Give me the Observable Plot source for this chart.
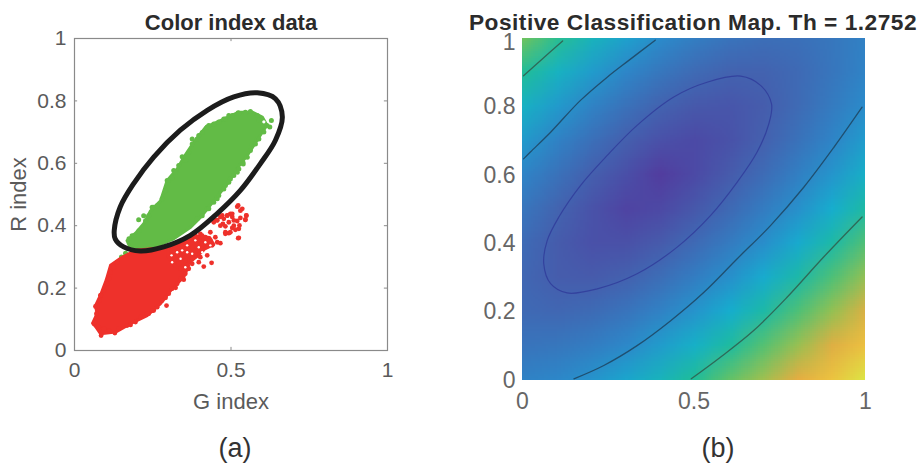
<!DOCTYPE html>
<html><head><meta charset="utf-8">
<script src="https://cdn.jsdelivr.net/npm/d3@7"></script>
<script src="https://cdn.jsdelivr.net/npm/@observablehq/plot@0.6"></script>
<style>
html,body{margin:0;padding:0;background:#fff}
#page{position:relative;width:922px;height:463px;overflow:hidden;font-family:"Liberation Sans",Arial,sans-serif}
#page svg{position:absolute;top:0;background:transparent}
.t{position:absolute;white-space:nowrap;transform:translateX(-50%);line-height:1}
.title{font-weight:bold;font-size:22px;color:#2b2b2b}
.sub{font-size:27px;color:#333}
</style></head><body><div id="page">
<div class="t title" style="left:231px;top:12px;font-size:22px">Color index data</div>
<div class="t title" style="left:693px;top:11px;font-size:22.7px;letter-spacing:.5px">Positive Classification Map. Th = 1.2752</div>
<div class="t sub" style="left:235px;top:435px">(a)</div>
<div class="t sub" style="left:718px;top:435px">(b)</div>
</div>
<script>
// Panel (a): outlines of the densely packed clouds and the visible separate dots
const greenCloud = [[.168,.352],[.195,.376],[.221,.406],[.243,.448],[.275,.480],[.296,.545],[.328,.582],[.349,.619],[.381,.667],[.419,.716],[.466,.737],[.525,.764],[.568,.764],[.600,.748],[.615,.722],[.589,.683],[.552,.625],[.530,.598],[.488,.534],[.445,.480],[.403,.427],[.371,.395],[.317,.358],[.253,.331],[.179,.326]];
const greenDots = [[.205,.419],[.344,.621],[.376,.678],[.429,.721],[.523,.762],[.562,.766],[.589,.739],[.629,.737],[.615,.721],[.538,.603],[.482,.529],[.296,.545],[.248,.459],[.221,.432],[.184,.368],[.317,.577],[.397,.689],[.477,.742],[.493,.753],[.568,.662],[.584,.678],[.520,.571],[.498,.550],[.456,.486],[.424,.454],[.392,.422],[.131,.278],[.168,.299],[.163,.312],[.150,.300],
[.174,.358],[.190,.368],[.206,.384],[.227,.416],[.237,.432],[.253,.459],[.264,.464],[.280,.486],[.291,.512],[.301,.545],[.312,.553],[.323,.571],[.333,.593],[.355,.609],[.365,.635],[.376,.662],[.392,.678],[.408,.699],[.424,.716],[.445,.726],[.461,.732],[.482,.742],[.504,.753],[.525,.760],[.546,.764],
[.584,.753],[.624,.716],[.605,.700],[.589,.678],[.578,.662],[.562,.641],[.552,.619],[.539,.598],[.525,.582],[.509,.561],[.493,.539],[.477,.518],[.461,.497],[.445,.475],[.429,.454],[.408,.432]];
const greenGaps = [[.605,.733]];
const redCloud = [[.058,.088],[.072,.118],[.067,.144],[.083,.177],[.101,.225],[.115,.273],[.152,.299],[.195,.321],[.301,.331],[.323,.337],[.317,.299],[.365,.273],[.349,.235],[.314,.201],[.275,.150],[.232,.112],[.179,.086],[.131,.059],[.083,.054],[.067,.077]];
const redArm = [[.30,.33],[.344,.353],[.39,.366],[.432,.362],[.445,.340],[.415,.325],[.39,.30],[.37,.285],[.35,.265],[.32,.27],[.30,.30]];
const redDots = [[.523,.465],[.536,.454],[.549,.433],[.546,.419],[.530,.425],[.520,.415],[.509,.417],[.527,.401],[.514,.387],[.504,.393],[.493,.376],[.482,.374],[.498,.438],[.488,.433],[.472,.433],[.456,.417],[.445,.419],[.474,.406],[.482,.398],[.466,.428],[.504,.428],[.523,.360],[.438,.281],[.413,.269],[.397,.283],[.386,.305],[.408,.321],[.424,.305],[.440,.337],[.456,.347],[.466,.344],[.450,.363],[.434,.353],[.418,.363],[.402,.374],[.386,.369],[.370,.358],[.408,.342],[.397,.353],[.376,.331],[.392,.321],[.424,.334],[.402,.299],[.376,.294],[.376,.278],[.365,.305],[.354,.289],[.349,.273],[.339,.262],[.349,.227],[.323,.201],[.294,.144],[.291,.169],[.253,.128],[.237,.118],[.179,.082],[.129,.056],[.085,.048],[.062,.086],[.073,.144],[.084,.177],[.107,.230],[.104,.212],[.123,.271],[.344,.310],[.328,.347],[.354,.347],[.360,.331],[.333,.278],
[.065,.091],[.078,.075],[.094,.070],[.110,.064],[.141,.070],[.168,.080],[.195,.091],[.211,.107],[.232,.118],[.248,.128],[.264,.139],[.280,.160],[.301,.182],[.312,.198],[.328,.214],[.339,.230],[.354,.246],[.365,.262],[.070,.118],[.067,.141],[.080,.160],[.083,.177],[.094,.192],[.104,.214],[.110,.230],[.115,.251],[.126,.267],[.136,.283],
[.520,.461],[.530,.448],[.549,.432],[.546,.419],[.456,.418],[.445,.411],[.488,.432],[.504,.438],[.477,.422],[.493,.411],[.509,.400],[.525,.390],[.482,.379],[.466,.400],[.498,.379],[.525,.361],[.434,.379],[.408,.368]];
const redGaps = [[.328,.315],[.344,.321],[.360,.315],[.376,.310],[.310,.305],[.339,.294],[.397,.331],[.418,.347],[.434,.337],[.360,.337],[.386,.353],[.408,.315],[.312,.283],[.354,.267]];
const selectionRing = [[.127,.385],[.146,.460],[.189,.535],[.253,.620],[.338,.706],[.424,.770],[.509,.813],[.584,.826],[.642,.807],[.664,.749],[.642,.674],[.594,.599],[.530,.513],[.456,.439],[.370,.369],[.285,.332],[.210,.319],[.157,.332],[.130,.358]];
const ticksA = [0,.2,.4,.6,.8,1];
const ticksYB = [0,.2,.4,.6,.8];
const ticksTopB = [1];
const ticksXA = [0,.5,1];

// Panel (b): map level estimated every 0.1 (rows y = 0 .. 1, columns x = 0 .. 1)
const mapRows = [
[1.84,1.96,2.18,2.46,2.79,3.15,3.53,3.93,4.34,4.76,5.18],
[1.50,1.55,1.72,1.98,2.31,2.67,3.06,3.46,3.88,4.30,4.73],
[1.25,1.18,1.27,1.50,1.82,2.19,2.59,3.00,3.42,3.85,4.29],
[1.17,0.92,0.87,1.03,1.34,1.72,2.12,2.55,2.98,3.41,3.86],
[1.28,0.88,0.59,0.58,0.86,1.24,1.66,2.10,2.54,2.99,3.44],
[1.54,1.09,0.65,0.27,0.37,0.79,1.23,1.68,2.13,2.58,3.04],
[1.89,1.43,0.98,0.53,0.11,0.40,0.85,1.30,1.76,2.21,2.67],
[2.29,1.84,1.40,0.98,0.60,0.41,0.63,1.02,1.45,1.89,2.34],
[2.71,2.28,1.85,1.45,1.08,0.81,0.74,0.93,1.26,1.65,2.07],
[3.16,2.73,2.32,1.93,1.56,1.26,1.08,1.07,1.24,1.53,1.89],
[3.61,3.20,2.79,2.40,2.05,1.73,1.50,1.37,1.40,1.56,1.82]];
const levelStops = [0,0.4,1,2.05,2.6,3.15,3.65,4.0,4.4,4.8,5.18];
const levelColors = ["#54389c","#4c4aa6","#4560ae","#2b8bcb","#16aece","#20bd98","#76c35a","#a9bf4e","#f0aa40","#ecc640","#dbe645"];
const contourInner = [[.062,.341],[.072,.409],[.106,.478],[.169,.570],[.247,.658],[.334,.746],[.441,.829],[.538,.872],[.636,.890],[.694,.863],[.726,.809],[.718,.750],[.684,.668],[.626,.580],[.548,.482],[.451,.390],[.334,.312],[.218,.268],[.130,.256],[.082,.283]];
const contourCorner = [[.003,.891],[.052,.935],[.117,.993]];
const contourUpper = [[.003,.648],[.023,.668],[.082,.726],[.169,.819],[.247,.887],[.310,.936],[.387,.995]];
const contourLower = [[.150,.005],[.237,.044],[.334,.102],[.432,.175],[.529,.258],[.626,.356],[.723,.453],[.820,.565],[.908,.682],[.990,.799]];
const contourOuter = [[.492,.005],[.577,.068],[.674,.146],[.772,.244],[.878,.361],[.990,.478]];

const X = d => d[0], Y = d => d[1];
const GREEN = "#62bb46", RED = "#ee312b", FRAME = "#8a8a8a";

const plotA = Plot.plot({
  width: 440, height: 463,
  marginLeft: 74, marginRight: 53, marginTop: 38, marginBottom: 113,
  style: {fontFamily: '"Liberation Sans",Arial,sans-serif', background: "transparent", overflow: "visible"},
  x: {domain: [0,1]}, y: {domain: [0,1]},
  marks: [
    Plot.line(greenCloud.concat([greenCloud[0]]), {x: X, y: Y, fill: GREEN, stroke: GREEN, strokeWidth: 3}),
    Plot.dot(greenDots, {x: X, y: Y, r: 2.5, fill: GREEN}),
    Plot.dot(greenGaps, {x: X, y: Y, r: 1.6, fill: "#fff"}),
    Plot.line(redCloud.concat([redCloud[0]]), {x: X, y: Y, fill: RED, stroke: RED, strokeWidth: 3}),
    Plot.line(redArm.concat([redArm[0]]), {x: X, y: Y, fill: RED, stroke: RED, strokeWidth: 3}),
    Plot.dot(redDots, {x: X, y: Y, r: 2.4, fill: RED}),
    Plot.dot(redGaps, {x: X, y: Y, r: 1.2, fill: "#fff"}),
    Plot.line(selectionRing, {x: X, y: Y, curve: "catmull-rom-closed", stroke: "#1c1c1c", strokeWidth: 5}),
    Plot.ruleX(ticksXA, {x: d => d, y1: 0, y2: .01, stroke: FRAME}),
    Plot.ruleX(ticksXA, {x: d => d, y1: .99, y2: 1, stroke: FRAME}),
    Plot.ruleY(ticksA, {y: d => d, x1: 0, x2: .01, stroke: FRAME}),
    Plot.ruleY(ticksA, {y: d => d, x1: .99, x2: 1, stroke: FRAME}),
    Plot.frame({stroke: FRAME, strokeWidth: 1.2}),
    Plot.axisX({ticks: ticksXA, tickSize: 0, tickPadding: 12, fontSize: 21, color: "#5a5a5a", label: "G index", labelAnchor: "center", labelArrow: "none", labelOffset: 58, tickFormat: String}),
    Plot.axisY({ticks: ticksA, tickSize: 0, tickPadding: 8, fontSize: 21, color: "#5a5a5a", label: "R index", labelAnchor: "center", labelArrow: "none", labelOffset: 64, tickFormat: String})
  ]
});
plotA.style.left = "0px";
plotA.querySelectorAll('[aria-label="x-axis label"] text, [aria-label="y-axis label"] text').forEach(t => t.setAttribute("font-size", 22));

const plotB = Plot.plot({
  width: 482, height: 463,
  marginLeft: 82, marginRight: 57, marginTop: 38, marginBottom: 83,
  style: {fontFamily: '"Liberation Sans",Arial,sans-serif', background: "transparent", overflow: "visible"},
  x: {domain: [0,1]}, y: {domain: [0,1]},
  color: {type: "linear", domain: levelStops, range: levelColors},
  marks: [
    Plot.raster(mapRows.flat(), {width: 11, height: 11, x1: -.05, x2: 1.05, y1: -.05, y2: 1.05, clip: "frame"}),
    Plot.line(contourInner, {x: X, y: Y, curve: "catmull-rom-closed", stroke: "#33429e", strokeWidth: 1.2}),
    Plot.line(contourCorner, {x: X, y: Y, curve: "catmull-rom", stroke: "#2e6a58", strokeWidth: 1.3}),
    Plot.line(contourUpper, {x: X, y: Y, curve: "catmull-rom", stroke: "#1f4f70", strokeWidth: 1.3}),
    Plot.line(contourLower, {x: X, y: Y, curve: "catmull-rom", stroke: "#1f4f70", strokeWidth: 1.3}),
    Plot.line(contourOuter, {x: X, y: Y, curve: "catmull-rom", stroke: "#2e6a58", strokeWidth: 1.3}),
    Plot.axisX({ticks: ticksXA, tickSize: 0, tickPadding: 12, fontSize: 23, color: "#666", label: null, tickFormat: String}),
    Plot.axisY({ticks: ticksYB, tickSize: 0, tickPadding: 7, fontSize: 23, color: "#666", label: null, tickFormat: String}),
    Plot.axisY({ticks: ticksTopB, tickSize: 0, tickPadding: 7, fontSize: 23, dy: 4, color: "#666", label: null, tickFormat: String})
  ]
});
plotB.style.left = "440px";

const page = document.getElementById("page");
page.append(plotA, plotB);
</script>
</body></html>
